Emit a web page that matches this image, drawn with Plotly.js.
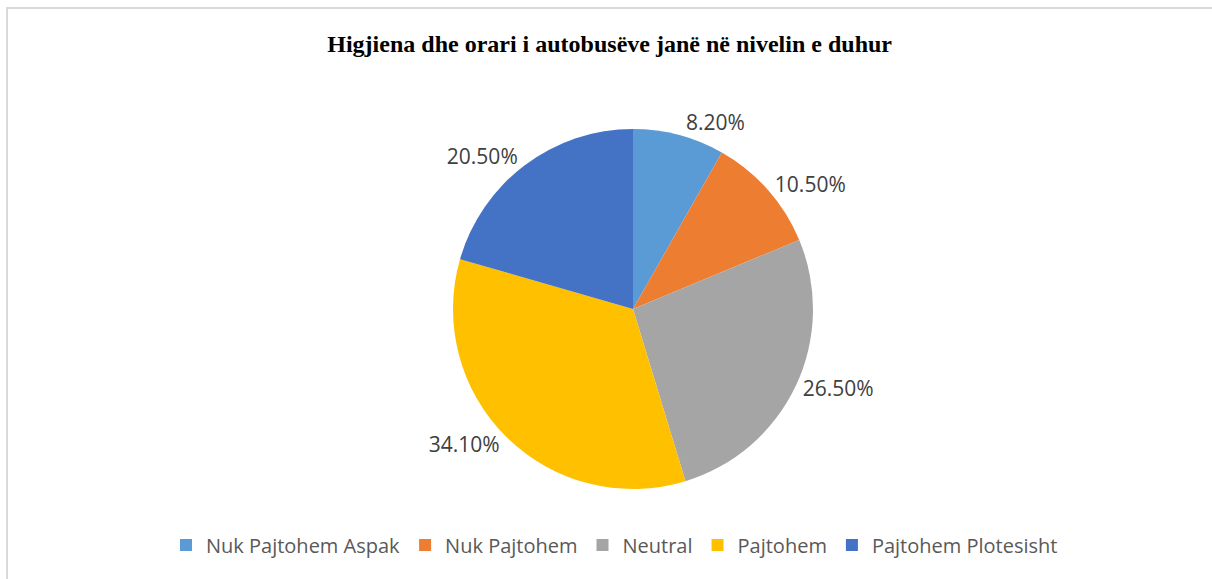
<!DOCTYPE html>
<html>
<head>
<meta charset="utf-8">
<script src="https://cdn.plot.ly/plotly-3.0.1.min.js"></script>
<style>
html,body{margin:0;padding:0;background:#fff;}
#frame{position:absolute;left:6px;top:7px;width:1206px;height:572px;border-left:2px solid #d9d9d9;border-top:2px solid #d9d9d9;}
#chart{position:absolute;left:0;top:0;width:1212px;height:579px;}
</style>
</head>
<body>
<div id="frame"></div>
<div id="chart"></div>
<script>
const categories = ["Nuk Pajtohem Aspak", "Nuk Pajtohem", "Neutral", "Pajtohem", "Pajtohem Plotesisht"];
const values = [8.2, 10.5, 26.5, 34.1, 20.5];
const colors = ["#5b9bd5", "#ed7d31", "#a5a5a5", "#ffc000", "#4472c4"];
const titleText = "Higjiena dhe orari i autobusëve janë në nivelin e duhur";

const W = 1212, H = 579;
const cx = 633, cy = 309, r = 180;

const trace = {
  type: "pie",
  labels: categories,
  values: values,
  sort: false,
  direction: "clockwise",
  rotation: 0,
  marker: {colors: colors, line: {color: "#ffffff", width: 0}},
  textposition: "outside",
  texttemplate: "%{value:.2f}%",
  textfont: {family: "Open Sans", size: 21, color: "#404040"},
  outsidetextfont: {family: "Open Sans", size: 21, color: "#404040"},
  hoverinfo: "label+value",
  domain: {x: [(cx - r) / W, (cx + r) / W], y: [(H - cy - r) / H, (H - cy + r) / H]},
  automargin: false
};

const layout = {
  width: W, height: H,
  margin: {l: 0, r: 0, t: 0, b: 0},
  paper_bgcolor: "rgba(0,0,0,0)",
  plot_bgcolor: "rgba(0,0,0,0)",
  title: {
    text: "<b>" + titleText + "</b>",
    font: {family: "Liberation Serif", size: 24, color: "#000000"},
    x: 0.503, xanchor: "center", xref: "paper",
    y: 1 - 44 / H, yanchor: "middle", yref: "container"
  },
  showlegend: true,
  legend: {
    orientation: "h",
    x: 0.507, xanchor: "center",
    y: 1 - 545 / H, yanchor: "middle",
    font: {family: "Open Sans", size: 20, color: "#595959"},
    traceorder: "normal",
    itemwidth: 30
  }
};

Plotly.newPlot("chart", [trace], layout, {displayModeBar: false, staticPlot: true});
</script>
</body>
</html>
